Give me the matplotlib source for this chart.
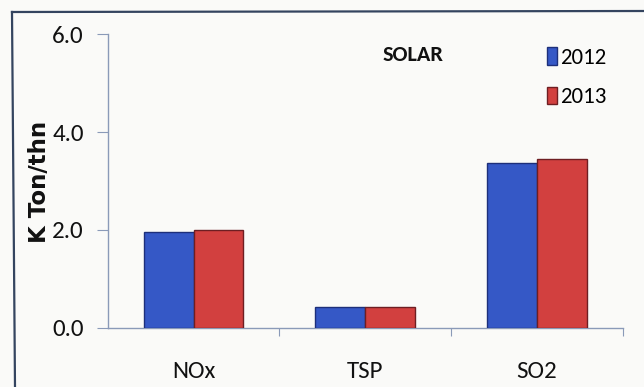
import matplotlib
matplotlib.use("Agg")
import matplotlib.pyplot as plt
from matplotlib.lines import Line2D
import numpy as np

categories = ["NOx", "TSP", "SO2"]
years = ["2012", "2013"]
values_2012 = [1.95, 0.42, 3.37]
values_2013 = [1.99, 0.43, 3.44]
yticks = [0.0, 2.0, 4.0, 6.0]

FONT = ["Carlito", "DejaVu Sans"]
BLUE, BLUE_EDGE = "#3558c6", "#1d2f7a"
RED, RED_EDGE = "#d2403f", "#6e1e22"
AXIS_COLOR = "#8a9ab8"
BG = "#fafaf8"

W, H = 644, 387
fig = plt.figure(figsize=(W / 100, H / 100), dpi=100, facecolor=BG)
ax = fig.add_axes([107.6 / W, 1 - 327.7 / H, (623 - 107.6) / W, (327.7 - 34.3) / H])
ax.set_facecolor(BG)

x = np.arange(len(categories))
bw = 0.29
ax.bar(x - bw / 2, values_2012, width=bw, color=BLUE, edgecolor=BLUE_EDGE,
       linewidth=1.0, label=years[0], zorder=3)
ax.bar(x + bw / 2, values_2013, width=bw, color=RED, edgecolor=RED_EDGE,
       linewidth=1.0, label=years[1], zorder=3)

ax.set_xlim(-0.5, 2.5)
ax.set_ylim(0, 6)

for s in ["top", "right"]:
    ax.spines[s].set_visible(False)
for s in ["left", "bottom"]:
    ax.spines[s].set_color(AXIS_COLOR)
    ax.spines[s].set_linewidth(1.0)

ax.set_yticks(yticks)
ax.set_yticklabels([f"{v:.1f}" for v in yticks], family=FONT, fontsize=18, color="#111111")
ax.tick_params(axis="y", direction="out", length=8, width=0.8, color=AXIS_COLOR, pad=9)

ax.set_xticks(x)
ax.set_xticklabels(categories, family=FONT, fontsize=18, color="#111111")
ax.set_xticks([0.5, 1.5, 2.5], minor=True)
ax.tick_params(axis="x", which="major", length=0, pad=24)
ax.tick_params(axis="x", which="minor", direction="out", length=6, width=0.8, color=AXIS_COLOR)

ax.text(1.28, 5.57, "SOLAR", family=FONT, fontsize=16, fontweight="bold",
        ha="center", va="center", color="#111111")

leg = ax.legend(loc="upper left", bbox_to_anchor=(536 / W, 1 - 36 / H),
                bbox_transform=fig.transFigure, frameon=False,
                prop={"family": FONT, "size": 16.5}, handlelength=0.4,
                handleheight=0.8, handletextpad=0.15, labelspacing=0.8,
                borderpad=0)

fig.text(39 / W, 1 - 182 / H, "K Ton/thn", rotation=90, ha="center", va="center",
         fontsize=16.5, fontweight="bold", color="#111111", family="DejaVu Sans")

# outer frame lines along the top and left
fig.add_artist(Line2D([12 / W, 15 / W], [1 - 12 / H, 0], color="#34445f", linewidth=1.6))
fig.add_artist(Line2D([12 / W, 1.0], [1 - 12 / H, 1 - 11 / H], color="#34445f", linewidth=1.6))

fig.savefig("out.png", dpi=100, facecolor=fig.get_facecolor())
